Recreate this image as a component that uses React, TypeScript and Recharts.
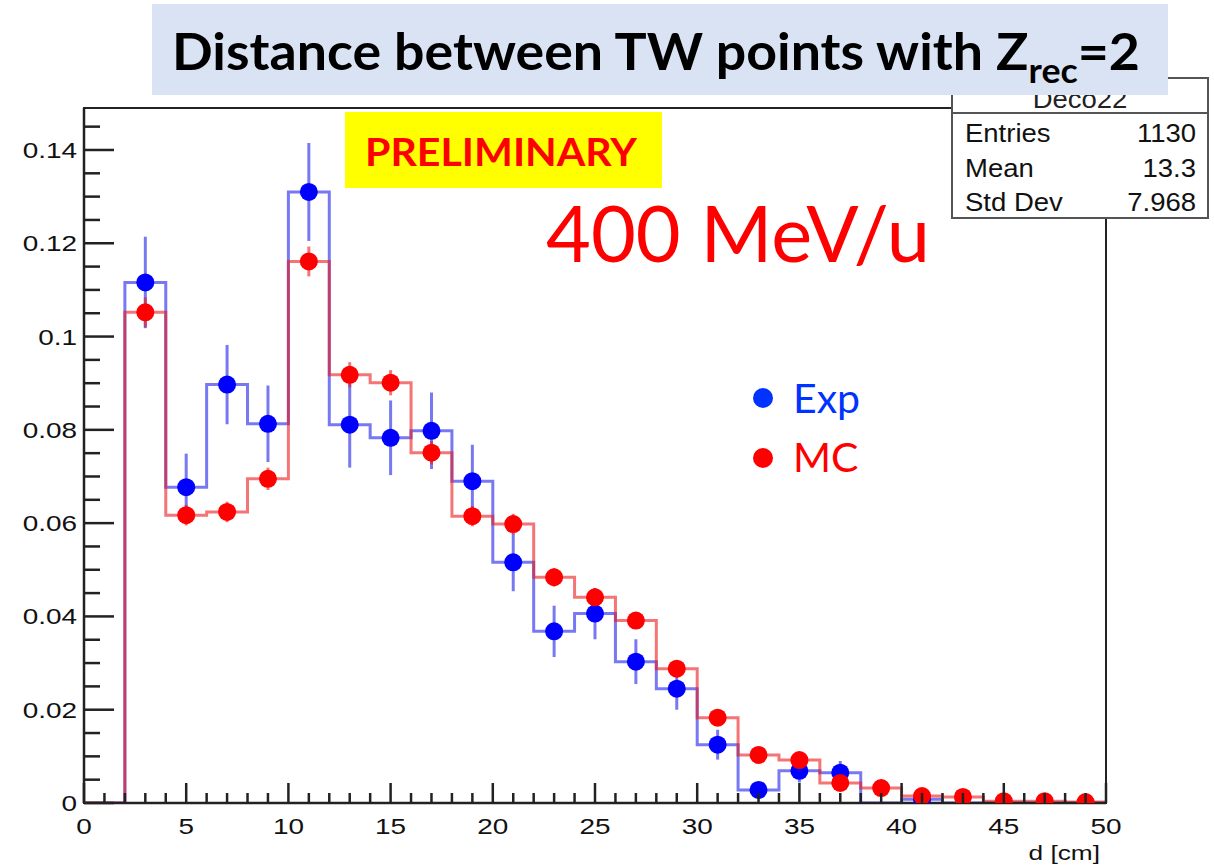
import React from 'react';
import { ComposedChart, Line, Scatter, XAxis, YAxis, ErrorBar, ReferenceArea } from 'recharts';

// ---- data ----
const binCenters = [1, 3, 5, 7, 9, 11, 13, 15, 17, 19, 21, 23, 25, 27, 29, 31, 33, 35, 37, 39, 41, 43, 45, 47, 49];
const binEdges = [0, 2, 4, 6, 8, 10, 12, 14, 16, 18, 20, 22, 24, 26, 28, 30, 32, 34, 36, 38, 40, 42, 44, 46, 48, 50];
const expValues = [0, 0.1116, 0.0677, 0.0897, 0.0813, 0.131, 0.0811, 0.0783, 0.0798, 0.069, 0.0516, 0.0368, 0.0406, 0.0303, 0.0245, 0.0125, 0.0028, 0.0069, 0.0065, 0, 0.0008, 0, 0, 0, 0];
const expErrors = [0, 0.0098, 0.0072, 0.0085, 0.0082, 0.0105, 0.0092, 0.008, 0.0082, 0.0078, 0.0062, 0.0055, 0.0055, 0.0048, 0.0045, 0.0032, 0.0016, 0.0025, 0.0025, 0, 0.001, 0, 0, 0, 0];
const mcValues = [0, 0.1052, 0.0617, 0.0624, 0.0695, 0.1161, 0.0918, 0.0901, 0.0751, 0.0615, 0.0598, 0.0484, 0.0441, 0.0391, 0.0288, 0.0183, 0.0103, 0.0092, 0.0043, 0.0032, 0.0015, 0.0013, 0.0004, 0.0004, 0.0002];
const mcErrors = [0, 0.0032, 0.0022, 0.0022, 0.0024, 0.0032, 0.0027, 0.0027, 0.0025, 0.0022, 0.0022, 0.002, 0.0019, 0.0018, 0.0015, 0.0012, 0.0009, 0.0009, 0.0006, 0.0005, 0.0004, 0.0003, 0.0002, 0.0002, 0.0001];
const yTicks = [0, 0.005, 0.01, 0.015, 0.02, 0.025, 0.03, 0.035, 0.04, 0.045, 0.05, 0.055, 0.06, 0.065, 0.07, 0.075, 0.08, 0.085, 0.09, 0.095, 0.1, 0.105, 0.11, 0.115, 0.12, 0.125, 0.13, 0.135, 0.14, 0.145];
const xTicks = [0, 1, 2, 3, 4, 5, 6, 7, 8, 9, 10, 11, 12, 13, 14, 15, 16, 17, 18, 19, 20, 21, 22, 23, 24, 25, 26, 27, 28, 29, 30, 31, 32, 33, 34, 35, 36, 37, 38, 39, 40, 41, 42, 43, 44, 45, 46, 47, 48, 49, 50];
const statsRows = [
  ['Entries', '1130'],
  ['Mean', '13.3'],
  ['Std Dev', '7.968'],
];

const stepData = (vals: number[]) =>
  binEdges.map((x, i) => ({ x, y: vals[Math.min(i, vals.length - 1)] }));
const pointData = (vals: number[], errs: number[]) =>
  binCenters
    .map((x, i) => ({ x, y: vals[i], err: errs[i] }))
    .filter((d) => d.y > 0);

const expStep = stepData(expValues);
const mcStep = stepData(mcValues);
const expPts = pointData(expValues, expErrors);
const mcPts = pointData(mcValues, mcErrors);

const ROOT_FONT = '"Liberation Sans", Arial, sans-serif';
const PPT_FONT = 'Lato, "Open Sans", sans-serif';
const AX = '#222';

const YTick = (props: any) => {
  const { x, y, payload } = props;
  const v = payload.value;
  const major = Math.round(v / 0.005) % 4 === 0;
  const label = String(parseFloat(v.toFixed(3)));
  return (
    <g>
      <line x1={x} x2={x + (major ? 30 : 16)} y1={y} y2={y} stroke={AX} strokeWidth={2.5} />
      {major && (
        <text
          transform={`translate(${x - 7},${y + 8}) scale(1.27,1)`}
          textAnchor="end"
          fontFamily={ROOT_FONT}
          fontSize={22}
          fill="#111"
        >
          {label}
        </text>
      )}
    </g>
  );
};

const XTick = (props: any) => {
  const { x, y, payload } = props;
  const v = payload.value;
  const major = v % 5 === 0;
  return (
    <g>
      <line x1={x} x2={x} y1={y} y2={y - (major ? 20 : 10)} stroke={AX} strokeWidth={2.5} />
      {major && (
        <text
          transform={`translate(${x},${y + 31}) scale(1.27,1)`}
          textAnchor="middle"
          fontFamily={ROOT_FONT}
          fontSize={22}
          fill="#111"
        >
          {v}
        </text>
      )}
    </g>
  );
};

const dot = (color: string) => (p: any) => <circle cx={p.cx} cy={p.cy} r={9} fill={color} />;

export default function App() {
  return (
    <div style={{ position: 'absolute', left: 0, top: 0, width: 1214, height: 867, background: '#fff' }}>
      <ComposedChart width={1214} height={867} margin={{ top: 108, right: 108, left: 0, bottom: 0 }}>
        <XAxis
          type="number"
          dataKey="x"
          domain={[0, 50]}
          ticks={xTicks}
          interval={0}
          tickSize={0}
          tickMargin={0}
          tick={<XTick />}
          height={64}
          axisLine={{ stroke: AX, strokeWidth: 2.5 }}
          allowDataOverflow
        />
        <YAxis
          type="number"
          dataKey="y"
          domain={[0, 0.149]}
          ticks={yTicks}
          interval={0}
          tickSize={0}
          tickMargin={0}
          tick={<YTick />}
          width={84}
          axisLine={{ stroke: AX, strokeWidth: 2.5 }}
          allowDataOverflow
        />
        <ReferenceArea x1={0} x2={50} y1={0} y2={0.149} fill="none" stroke={AX} strokeWidth={2} />
        <Line
          data={expStep}
          dataKey="y"
          type="stepAfter"
          stroke="rgba(30,30,235,0.6)"
          strokeWidth={3}
          dot={false}
          activeDot={false}
          isAnimationActive={false}
        />
        <Line
          data={mcStep}
          dataKey="y"
          type="stepAfter"
          stroke="rgba(235,25,25,0.6)"
          strokeWidth={3}
          dot={false}
          activeDot={false}
          isAnimationActive={false}
        />
        <Scatter data={expPts} dataKey="y" shape={dot('#0000ff')} isAnimationActive={false}>
          <ErrorBar dataKey="err" direction="y" width={0} stroke="rgba(30,30,235,0.6)" strokeWidth={3} />
        </Scatter>
        <Scatter data={mcPts} dataKey="y" shape={dot('#ff0000')} isAnimationActive={false}>
          <ErrorBar dataKey="err" direction="y" width={0} stroke="rgba(235,25,25,0.6)" strokeWidth={3} />
        </Scatter>
      </ComposedChart>

      <svg
        width={1214}
        height={867}
        style={{ position: 'absolute', left: 0, top: 0, pointerEvents: 'none' }}
      >
        {/* axis title */}
        <text
          transform="translate(1100,860) scale(1.25,1)"
          textAnchor="end"
          fontFamily={ROOT_FONT}
          fontSize={21}
          fill="#111"
        >
          d [cm]
        </text>

        {/* stats box */}
        <rect x={952} y={78} width={256} height={140} fill="#fff" stroke="#555" strokeWidth={2} />
        <line x1={952} x2={1208} y1={113} y2={113} stroke="#555" strokeWidth={2} />
        <text
          transform="translate(1080,108) scale(1.1,1)"
          textAnchor="middle"
          fontFamily={ROOT_FONT}
          fontSize={25}
          fill="#222"
        >
          Deco22
        </text>
        {statsRows.map((r, i) => (
          <g key={r[0]}>
            <text
              transform={`translate(965,${142 + i * 34.5}) scale(1.1,1)`}
              fontFamily={ROOT_FONT}
              fontSize={25}
              fill="#111"
            >
              {r[0]}
            </text>
            <text
              transform={`translate(1196,${142 + i * 34.5}) scale(1.1,1)`}
              textAnchor="end"
              fontFamily={ROOT_FONT}
              fontSize={25}
              fill="#111"
            >
              {r[1]}
            </text>
          </g>
        ))}

        {/* title box */}
        <rect x={152} y={4} width={1016} height={91} fill="#dae3f3" />
        <text
          x={172}
          y={70}
          fontFamily={PPT_FONT}
          fontWeight={700}
          fontSize={51}
          fill="#000"
          textLength={968}
          lengthAdjust="spacingAndGlyphs"
        >
          Distance between TW points with Z
          <tspan fontSize={34} dy={13}>rec</tspan>
          <tspan dy={-13}>=2</tspan>
        </text>

        {/* PRELIMINARY */}
        <rect x={345} y={112} width={317} height={76} fill="#ffff00" />
        <text
          x={365}
          y={166}
          fontFamily={PPT_FONT}
          fontWeight={700}
          fontSize={38}
          fill="#ff0000"
          textLength={272}
          lengthAdjust="spacingAndGlyphs"
        >
          PRELIMINARY
        </text>

        {/* energy */}
        <text
          x={546}
          y={262}
          fontFamily={PPT_FONT}
          fontSize={77}
          fill="#ff0000"
          textLength={384}
          lengthAdjust="spacingAndGlyphs"
        >
          400 MeV/u
        </text>

        {/* legend */}
        <circle cx={763} cy={398} r={10} fill="#0033ff" />
        <text x={793} y={413} fontFamily={PPT_FONT} fontSize={41} fill="#0033ff">
          Exp
        </text>
        <circle cx={763} cy={458} r={10} fill="#ff0000" />
        <text x={793} y={472} fontFamily={PPT_FONT} fontSize={41} fill="#ff0000">
          MC
        </text>
      </svg>
    </div>
  );
}
